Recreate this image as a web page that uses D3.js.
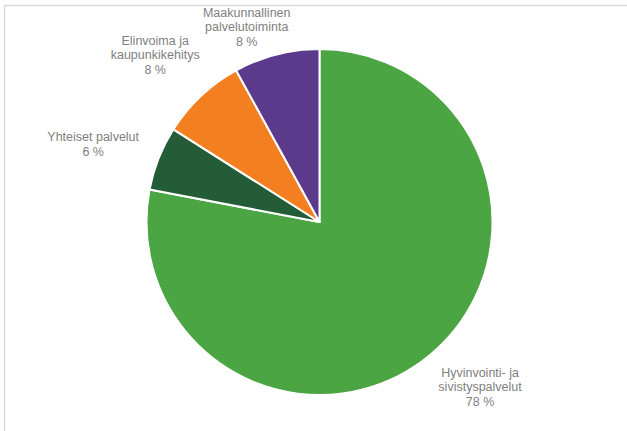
<!DOCTYPE html>
<html><head><meta charset="utf-8">
<script src="https://cdn.jsdelivr.net/npm/d3@7/dist/d3.min.js"></script>
<style>html,body{margin:0;padding:0;background:#fff;}svg{display:block;}</style>
</head><body>
<svg id="c" width="627" height="431"></svg>
<script>
// Data
const categories = ["Hyvinvointi- ja\nsivistyspalvelut", "Yhteiset palvelut", "Elinvoima ja\nkaupunkikehitys", "Maakunnallinen\npalvelutoiminta"];
const values = [78, 6, 8, 8];
const colors = ["#4aa542", "#245c38", "#f47f20", "#5b3a8b"];

// Layout
const W = 627, H = 431, cx = 319.5, cy = 222, R = 173;
const labelRadius = 1.32 * R;
const labelNudge = [[15, -11], [-14, 6], [-8, -1], [-16, 26]];

const svg = d3.select("#c");
// frame
svg.append("line").attr("x1", 4).attr("y1", 5.5).attr("x2", W).attr("y2", 5.5).attr("stroke", "#d9d9d9").attr("stroke-width", 1.5);
svg.append("line").attr("x1", 4.5).attr("y1", 5).attr("x2", 4.5).attr("y2", H).attr("stroke", "#d9d9d9").attr("stroke-width", 1.5);

const pie = d3.pie().sort(null).value(d => d)(values);
const arc = d3.arc().innerRadius(0).outerRadius(R);
const labelArc = d3.arc().innerRadius(labelRadius).outerRadius(labelRadius);

const g = svg.append("g").attr("transform", `translate(${cx},${cy})`);
g.selectAll("path").data(pie).enter().append("path")
  .attr("d", arc)
  .attr("fill", (d, i) => colors[i])
  .attr("stroke", "#fff").attr("stroke-width", 2).attr("stroke-linejoin", "round");

const lh = 14.5;
pie.forEach((d, i) => {
  const [x, y] = labelArc.centroid(d);
  const lines = categories[i].split("\n").concat([values[i] + " %"]);
  const px = x + labelNudge[i][0], py = y + labelNudge[i][1];
  const t = g.append("text")
    .attr("text-anchor", "middle")
    .attr("font-family", "'Liberation Sans', Arial, sans-serif")
    .attr("font-size", 12.5)
    .attr("fill", "#808080");
  const n = lines.length;
  lines.forEach((s, k) => {
    t.append("tspan").attr("x", px).attr("y", py + (k - (n - 1) / 2) * lh + 4.5).text(s);
  });
});
</script>
</body></html>
